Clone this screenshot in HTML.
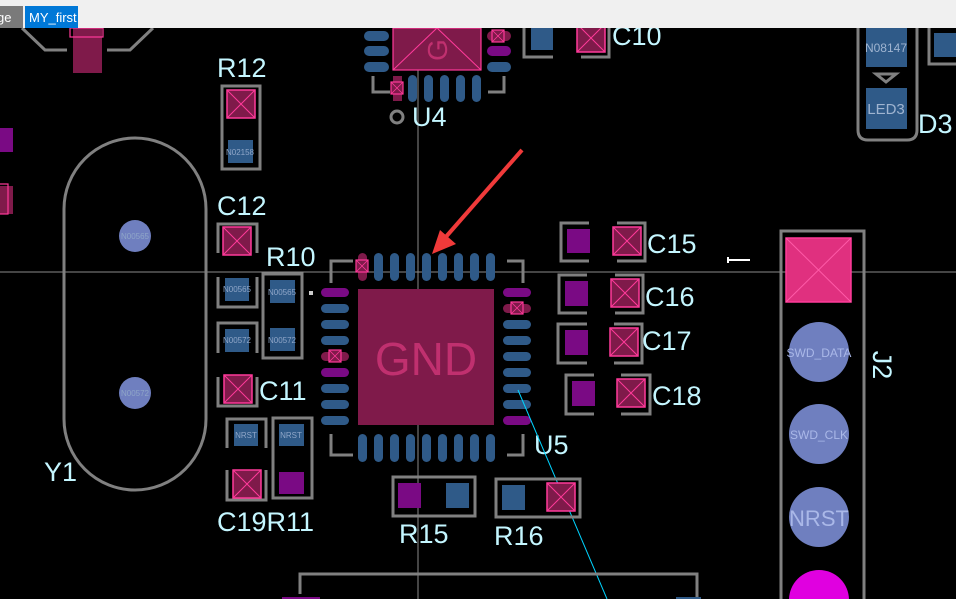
<!DOCTYPE html>
<html><head><meta charset="utf-8"><style>
html,body{margin:0;padding:0;background:#000;width:956px;height:599px;overflow:hidden}
svg{display:block;overflow:hidden}
text{font-family:"Liberation Sans",sans-serif}
.lb{fill:#c4f6ff;font-size:27px}
.sk{fill:none;stroke:#808080;stroke-width:3}
.bp{fill:#2f5a88}.pp{fill:#7a0a84}.mp{fill:#7f1a4a}
.pt{fill:#8fa6c8;font-size:8px}
</style></head><body>
<svg width="956" height="599" viewBox="0 0 956 599" xmlns="http://www.w3.org/2000/svg">
<defs>
<clipPath id="cp"><rect width="956" height="599"/></clipPath>
<g id="xb"><rect x="0" y="0" width="28" height="28" fill="#7f1a4a" stroke="#ff3a9a" stroke-width="1.5"/><path d="M0 0L28 28M28 0L0 28" stroke="#ff3a9a" stroke-width="1"/></g>
<g id="xs"><rect x="0" y="0" width="12" height="12" fill="#7f1a4a" stroke="#ff3a9a" stroke-width="1.2"/><path d="M0 0L12 12M12 0L0 12" stroke="#ff3a9a" stroke-width="0.8"/></g>
</defs>
<g clip-path="url(#cp)">
<rect width="956" height="599" fill="#000"/>
<line x1="418" y1="28" x2="418" y2="599" stroke="#8a8a8a" stroke-width="1"/>
<line x1="0" y1="272" x2="956" y2="272" stroke="#8a8a8a" stroke-width="1"/>

<path class="sk" d="M22 28L45 50H67M107 50H130L153 28"/>
<rect x="73" y="28" width="29" height="45" class="mp"/>
<rect x="70" y="28" width="33" height="9" fill="none" stroke="#ff3a9a" stroke-width="1.2"/>
<rect x="0" y="128" width="13" height="24" class="pp"/>
<rect x="0" y="186" width="13" height="28" class="mp"/>
<rect x="-10" y="184" width="18" height="30" fill="none" stroke="#ff3a9a" stroke-width="1.2"/>

<rect x="64" y="138" width="142" height="352" rx="71" class="sk"/>
<circle cx="135" cy="236" r="16" fill="#6f7fbf"/><text x="135" y="239" class="pt" text-anchor="middle" fill="#9fb0e0">N00565</text>
<circle cx="135" cy="393" r="16" fill="#6f7fbf"/><text x="135" y="396" class="pt" text-anchor="middle" fill="#9fb0e0">N00572</text>
<text x="44" y="481" class="lb">Y1</text>

<text x="217" y="77" class="lb">R12</text>
<rect x="222" y="86" width="38" height="83" class="sk"/>
<use href="#xb" x="227" y="90"/>
<rect x="228" y="140" width="25" height="23" class="bp"/><text x="240" y="155" class="pt" text-anchor="middle" font-size="7">N02158</text>

<text x="217" y="215" class="lb">C12</text>
<path class="sk" d="M218 253V224H257V253"/>
<use href="#xb" x="223" y="227"/>
<path class="sk" d="M218 277V307H257V277"/>
<rect x="225" y="278" width="24" height="23" class="bp"/><text x="237" y="292" class="pt" text-anchor="middle" font-size="7">N00565</text>
<path class="sk" d="M218 353V323H257V353"/>
<rect x="225" y="329" width="24" height="23" class="bp"/><text x="237" y="343" class="pt" text-anchor="middle" font-size="7">N00572</text>
<text x="266" y="266" class="lb">R10</text>
<rect x="263" y="274" width="39" height="84" class="sk"/>
<rect x="270" y="280" width="25" height="23" class="bp"/><text x="282" y="295" class="pt" text-anchor="middle" font-size="7">N00565</text>
<rect x="270" y="328" width="25" height="23" class="bp"/><text x="282" y="343" class="pt" text-anchor="middle" font-size="7">N00572</text>
<rect x="309" y="291" width="4" height="4" fill="#ccc"/>
<path class="sk" d="M218 377V406H257V377"/>
<use href="#xb" x="224" y="375"/>
<text x="259" y="400" class="lb">C11</text>
<path class="sk" d="M227 448V419H266V448M227 470V500H266V470"/>
<rect x="234" y="424" width="24" height="22" class="bp"/><text x="246" y="438" class="pt" text-anchor="middle">NRST</text>
<use href="#xb" x="233" y="470"/>
<rect x="273" y="418" width="39" height="80" class="sk"/>
<rect x="279" y="424" width="25" height="22" class="bp"/><text x="291" y="438" class="pt" text-anchor="middle">NRST</text>
<rect x="279" y="472" width="25" height="22" class="pp"/>
<text x="217" y="531" class="lb">C19R11</text>

<rect x="393" y="28" width="88" height="42" class="mp" stroke="#ff3a9a" stroke-width="1.2"/>
<path d="M393 70L437 28L481 70" stroke="#ff3a9a" stroke-width="1" fill="none"/>
<text x="0" y="0" font-size="28" fill="#c0306f" text-anchor="middle" transform="translate(447 50) rotate(-90)">G</text>
<g class="bp"><rect x="364" y="31" width="25" height="10" rx="5"/><rect x="364" y="46" width="25" height="10" rx="5"/><rect x="364" y="62" width="25" height="10" rx="5"/>
<rect x="487" y="62" width="24" height="10" rx="5"/>
<rect x="408" y="75" width="9" height="27" rx="4.5"/><rect x="424" y="75" width="9" height="27" rx="4.5"/><rect x="440" y="75" width="9" height="27" rx="4.5"/><rect x="456" y="75" width="9" height="27" rx="4.5"/><rect x="472" y="75" width="9" height="27" rx="4.5"/></g>
<rect x="487" y="31" width="24" height="10" rx="5" class="mp"/><use href="#xs" x="492" y="30"/>
<rect x="487" y="46" width="24" height="10" rx="5" class="pp"/>
<rect x="393" y="76" width="9" height="25" class="mp"/><use href="#xs" x="391" y="82"/>
<path class="sk" d="M373 76V92H390M488 92H504V76"/>
<circle cx="397" cy="117" r="6" fill="none" stroke="#808080" stroke-width="3"/>
<text x="412" y="126" class="lb">U4</text>

<path class="sk" d="M524 28V57H553"/>
<rect x="531" y="28" width="22" height="22" class="bp"/>
<path class="sk" d="M581 57H609V28"/>
<use href="#xb" x="577" y="24"/>
<text x="612" y="45" class="lb">C10</text>
<path class="sk" d="M858 28V130Q858 140 868 140H907Q917 140 917 130V28"/>
<rect x="866" y="28" width="41" height="39" class="bp"/><text x="886" y="52" font-size="12" fill="#9fb4d0" text-anchor="middle">N08147</text>
<path d="M876 74H896L886 82Z" fill="none" stroke="#808080" stroke-width="3"/>
<rect x="866" y="88" width="41" height="41" class="bp"/><text x="886" y="114" font-size="15" fill="#9fb4d0" text-anchor="middle">LED3</text>
<text x="918" y="133" class="lb">D3</text>
<path class="sk" d="M929 28V64H956"/>
<rect x="934" y="33" width="22" height="24" class="bp"/>

<rect x="358" y="289" width="136" height="136" fill="#7f1a4a"/>
<text x="426" y="375" font-size="46" fill="#c0306f" text-anchor="middle">GND</text>
<g class="bp">
<rect x="374" y="253" width="9" height="28" rx="4.5"/><rect x="390" y="253" width="9" height="28" rx="4.5"/><rect x="406" y="253" width="9" height="28" rx="4.5"/><rect x="422" y="253" width="9" height="28" rx="4.5"/><rect x="438" y="253" width="9" height="28" rx="4.5"/><rect x="454" y="253" width="9" height="28" rx="4.5"/><rect x="470" y="253" width="9" height="28" rx="4.5"/><rect x="486" y="253" width="9" height="28" rx="4.5"/>
<rect x="358" y="434" width="9" height="28" rx="4.5"/><rect x="374" y="434" width="9" height="28" rx="4.5"/><rect x="390" y="434" width="9" height="28" rx="4.5"/><rect x="406" y="434" width="9" height="28" rx="4.5"/><rect x="422" y="434" width="9" height="28" rx="4.5"/><rect x="438" y="434" width="9" height="28" rx="4.5"/><rect x="454" y="434" width="9" height="28" rx="4.5"/><rect x="470" y="434" width="9" height="28" rx="4.5"/><rect x="486" y="434" width="9" height="28" rx="4.5"/>
<rect x="321" y="304" width="28" height="9" rx="4.5"/><rect x="321" y="320" width="28" height="9" rx="4.5"/><rect x="321" y="336" width="28" height="9" rx="4.5"/><rect x="321" y="384" width="28" height="9" rx="4.5"/><rect x="321" y="400" width="28" height="9" rx="4.5"/><rect x="321" y="416" width="28" height="9" rx="4.5"/>
<rect x="503" y="320" width="28" height="9" rx="4.5"/><rect x="503" y="336" width="28" height="9" rx="4.5"/><rect x="503" y="352" width="28" height="9" rx="4.5"/><rect x="503" y="368" width="28" height="9" rx="4.5"/><rect x="503" y="384" width="28" height="9" rx="4.5"/><rect x="503" y="400" width="28" height="9" rx="4.5"/>
</g>
<rect x="358" y="253" width="9" height="28" rx="4.5" class="mp"/><use href="#xs" x="356" y="260"/>
<rect x="321" y="288" width="28" height="9" rx="4.5" class="pp"/>
<rect x="321" y="352" width="28" height="9" rx="4.5" class="mp"/><use href="#xs" x="329" y="350"/>
<rect x="321" y="368" width="28" height="9" rx="4.5" class="pp"/>
<rect x="503" y="288" width="28" height="9" rx="4.5" class="pp"/>
<rect x="503" y="304" width="28" height="9" rx="4.5" class="mp"/><use href="#xs" x="511" y="302"/>
<rect x="503" y="416" width="28" height="9" rx="4.5" class="pp"/>
<path class="sk" d="M331 283V261H353M507 261H523V283M331 434V455H353M507 455H523V434"/>
<text x="534" y="454" class="lb">U5</text>
<line x1="518" y1="390" x2="607" y2="599" stroke="#00d4ff" stroke-width="1"/>

<rect x="393" y="477" width="82" height="39" class="sk"/>
<rect x="398" y="483" width="23" height="25" class="pp"/>
<rect x="446" y="483" width="23" height="25" class="bp"/>
<text x="399" y="543" class="lb">R15</text>
<rect x="496" y="479" width="84" height="38" class="sk"/>
<rect x="502" y="485" width="23" height="25" class="bp"/>
<use href="#xb" x="547" y="483"/>
<text x="494" y="545" class="lb">R16</text>
<path class="sk" d="M300 594V574H697V597"/>
<rect x="282" y="597" width="38" height="2" class="pp"/>
<rect x="676" y="597" width="25" height="2" class="bp"/>

<path class="sk" d="M589 223H561V261H589M617 223H645V261H617"/>
<rect x="567" y="229" width="23" height="24" class="pp"/><use href="#xb" x="613" y="227"/>
<text x="647" y="253" class="lb">C15</text>
<path class="sk" d="M587 275H559V313H587M615 275H643V313H615"/>
<rect x="565" y="281" width="23" height="25" class="pp"/><use href="#xb" x="611" y="279"/>
<text x="645" y="306" class="lb">C16</text>
<path class="sk" d="M587 324H558V363H587M614 324H642V363H614"/>
<rect x="565" y="330" width="23" height="25" class="pp"/><use href="#xb" x="610" y="328"/>
<text x="642" y="350" class="lb">C17</text>
<path class="sk" d="M594 375H566V414H594M621 375H650V414H621"/>
<rect x="572" y="381" width="23" height="25" class="pp"/><use href="#xb" x="617" y="379"/>
<text x="652" y="405" class="lb">C18</text>
<path d="M728 260H750M728 257V263" stroke="#fff" stroke-width="2"/>

<path class="sk" d="M781 599V231H864V599"/>
<rect x="786" y="238" width="65" height="64" fill="#e0307f" stroke="#ff3a9a" stroke-width="1.5"/>
<path d="M786 238L851 302M851 238L786 302" stroke="#ff5aa8" stroke-width="1"/>
<circle cx="819" cy="352" r="30" fill="#6f7fbf"/><text x="819" y="357" font-size="12" fill="#aab8e8" text-anchor="middle">SWD_DATA</text>
<circle cx="819" cy="434" r="30" fill="#6f7fbf"/><text x="819" y="439" font-size="12" fill="#aab8e8" text-anchor="middle">SWD_CLK</text>
<circle cx="819" cy="517" r="30" fill="#6f7fbf"/><text x="819" y="526" font-size="22" fill="#aab8e8" text-anchor="middle">NRST</text>
<circle cx="819" cy="600" r="30" fill="#e000e0"/>
<text x="869" y="376" class="lb" transform="rotate(90 880 376)" text-anchor="middle" dominant-baseline="middle">J2</text>

<line x1="522" y1="150" x2="444" y2="239" stroke="#f03a3a" stroke-width="4"/>
<path d="M432 254L440 230L456 244Z" fill="#f03a3a"/>

<rect x="0" y="0" width="956" height="28" fill="#f0f0f0"/>
<rect x="0" y="6" width="23" height="22" fill="#7a7a7a"/>
<text x="-3" y="22" font-size="13" fill="#fff">ge</text>
<rect x="25" y="6" width="53" height="22" fill="#0078d7"/>
<text x="29" y="22" font-size="13" fill="#fff">MY_first</text>
</g>
</svg>
</body></html>
